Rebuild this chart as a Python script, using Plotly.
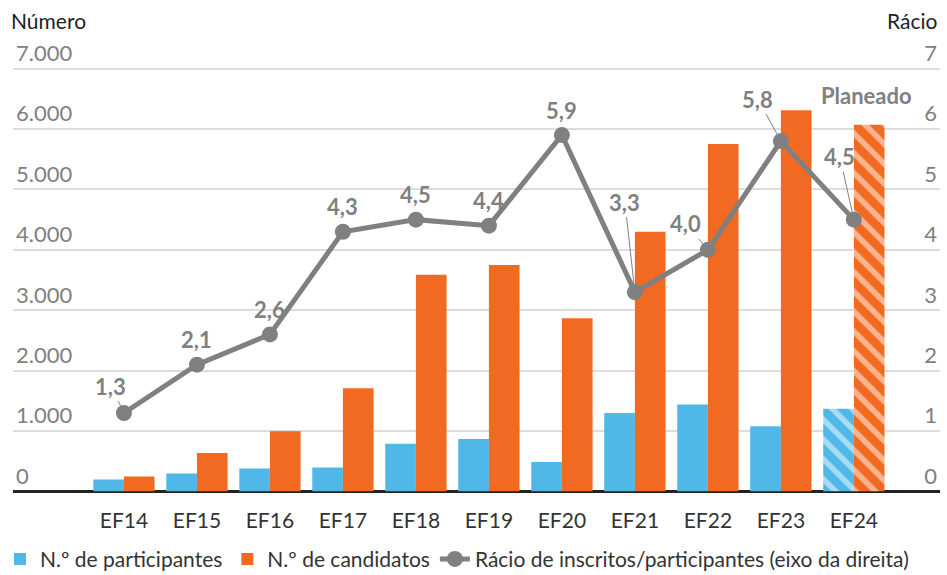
import plotly.graph_objects as go

anos = ["EF14", "EF15", "EF16", "EF17", "EF18", "EF19", "EF20", "EF21", "EF22", "EF23", "EF24"]
participantes = [200, 300, 380, 400, 790, 870, 490, 1300, 1440, 1080, 1370]
candidatos = [250, 640, 1000, 1710, 3590, 3750, 2870, 4300, 5750, 6310, 6070]
racio = [1.3, 2.1, 2.6, 4.3, 4.5, 4.4, 5.9, 3.3, 4.0, 5.8, 4.5]
racio_txt = ["1,3", "2,1", "2,6", "4,3", "4,5", "4,4", "5,9", "3,3", "4,0", "5,8", "4,5"]
y_ticks = [0, 1000, 2000, 3000, 4000, 5000, 6000, 7000]
y_ticktext = ["0", "1.000", "2.000", "3.000", "4.000", "5.000", "6.000", "7.000"]

AZUL = "#4fb8e8"
LARANJA = "#f26a21"
CINZA = "#808080"
FONTE = "Lato"

# o ultimo ano (planeado) fica tracejado
padrao = [""] * (len(anos) - 1) + ["\\"]

fig = go.Figure()
fig.add_trace(go.Bar(x=anos, y=participantes, name="N.º de participantes",
                     marker=dict(color=AZUL, line_width=0,
                                 pattern=dict(shape=padrao, fgcolor="white", size=14, solidity=0.4))))
fig.add_trace(go.Bar(x=anos, y=candidatos, name="N.º de candidatos",
                     marker=dict(color=LARANJA, line_width=0,
                                 pattern=dict(shape=padrao, fgcolor="white", size=14, solidity=0.4))))
fig.add_trace(go.Scatter(x=anos, y=racio, yaxis="y2", mode="lines+markers",
                         name="Rácio de inscritos/participantes (eixo da direita)",
                         line=dict(color=CINZA, width=5), marker=dict(size=16, color=CINZA)))

# posicao das etiquetas (deslocamento em px) ; as com linha de chamada
desloc = {0: (-13, -27), 7: (-10, -90), 8: (-22, -26), 9: (-23, -42), 10: (-14, -63)}
for i, (a, v, t) in enumerate(zip(anos, racio, racio_txt)):
    if i in desloc:
        ax, ay = desloc[i]
        fig.add_annotation(x=a, y=v, yref="y2", text="<b>%s</b>" % t, showarrow=True, arrowhead=0,
                           arrowwidth=1, arrowcolor=CINZA, ax=ax, ay=ay, standoff=0,
                           font=dict(family=FONTE, size=22, color=CINZA))
    else:
        fig.add_annotation(x=a, y=v, yref="y2", text="<b>%s</b>" % t, showarrow=False, yshift=25,
                           font=dict(family=FONTE, size=22, color=CINZA))

fig.add_annotation(x=10.17, y=6.56, yref="y2", text="<b>Planeado</b>", showarrow=False,
                   font=dict(family=FONTE, size=22, color=CINZA))
fig.add_annotation(xref="paper", yref="paper", x=-0.004, y=1.0106, xanchor="left", yanchor="middle",
                   text="Número", showarrow=False, font=dict(family=FONTE, size=21, color="#222"))
fig.add_annotation(xref="paper", yref="paper", x=1.0, y=1.0106, xanchor="right", yanchor="middle",
                   text="Rácio", showarrow=False, font=dict(family=FONTE, size=21, color="#222"))

fig.update_layout(
    width=947, height=575,
    margin=dict(l=13, r=7, t=25, b=79),
    plot_bgcolor="white", paper_bgcolor="white",
    barmode="group", bargap=0.16, bargroupgap=0,
    font=dict(family=FONTE, size=22, color=CINZA),
    xaxis=dict(range=[-1.52, 11.18], showgrid=False, ticks="outside", ticklen=10,
               tickcolor="rgba(0,0,0,0)", tickfont=dict(color="#333", size=21)),
    yaxis=dict(range=[0, 7721], tickvals=y_ticks, ticktext=y_ticktext,
               ticklabelposition="inside top", gridcolor="#dcdcdc", gridwidth=2,
               zeroline=True, zerolinecolor="#222", zerolinewidth=3,
               tickfont=dict(color=CINZA, size=22)),
    yaxis2=dict(range=[0, 7.721], overlaying="y", side="right", tickvals=list(range(8)),
                ticklabelposition="inside top", showgrid=False, zeroline=False,
                tickfont=dict(color=CINZA, size=22)),
    legend=dict(orientation="h", xref="container", yref="container", x=0.0, xanchor="left",
                y=0.063, yanchor="top", font=dict(color="#333", size=21),
                itemwidth=30, tracegroupgap=0, entrywidthmode="pixels"),
    showlegend=True,
)

# tirar a margem da pagina para a figura ficar encostada ao canto
fig.write_html("out.html", config={"displayModeBar": False},
               post_script="document.body.style.margin='0';")
